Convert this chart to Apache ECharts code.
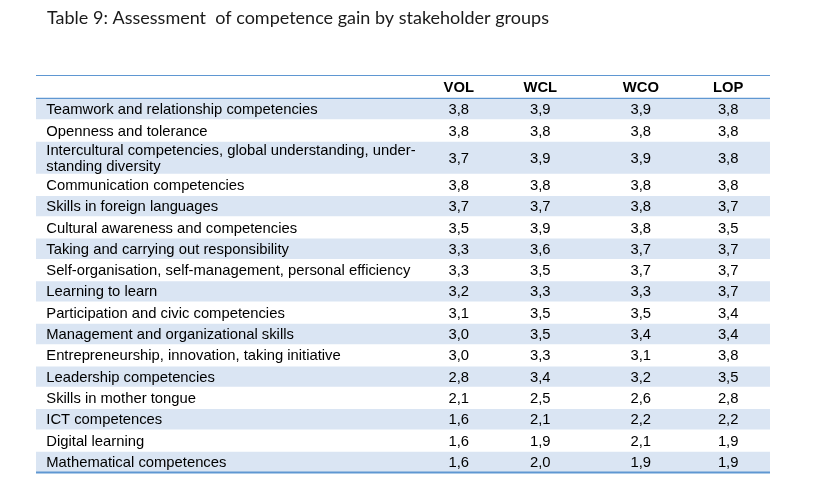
<!DOCTYPE html>
<html><head><meta charset="utf-8">
<script src="https://cdn.jsdelivr.net/npm/echarts@6/dist/echarts.min.js"></script>
<style>html,body{margin:0;padding:0;background:#fff}#c{width:837px;height:499px}</style>
</head><body><div id="c"></div>
<script>
const tableTitle = 'Table 9: Assessment  of competence gain by stakeholder groups';
const columns = ['VOL', 'WCL', 'WCO', 'LOP'];
const competences = [
  'Teamwork and relationship competencies',
  'Openness and tolerance',
  'Intercultural competencies, global understanding, under-\nstanding diversity',
  'Communication competencies',
  'Skills in foreign languages',
  'Cultural awareness and competencies',
  'Taking and carrying out responsibility',
  'Self-organisation, self-management, personal efficiency',
  'Learning to learn',
  'Participation and civic competencies',
  'Management and organizational skills',
  'Entrepreneurship, innovation, taking initiative',
  'Leadership competencies',
  'Skills in mother tongue',
  'ICT competences',
  'Digital learning',
  'Mathematical competences'
];
const VOL = [3.8, 3.8, 3.7, 3.8, 3.7, 3.5, 3.3, 3.3, 3.2, 3.1, 3.0, 3.0, 2.8, 2.1, 1.6, 1.6, 1.6];
const WCL = [3.9, 3.8, 3.9, 3.8, 3.7, 3.9, 3.6, 3.5, 3.3, 3.5, 3.5, 3.3, 3.4, 2.5, 2.1, 1.9, 2.0];
const WCO = [3.9, 3.8, 3.9, 3.8, 3.8, 3.8, 3.7, 3.7, 3.3, 3.5, 3.4, 3.1, 3.2, 2.6, 2.2, 2.1, 1.9];
const LOP = [3.8, 3.8, 3.8, 3.8, 3.7, 3.5, 3.7, 3.7, 3.7, 3.4, 3.4, 3.8, 3.5, 2.8, 2.2, 1.9, 1.9];

// ---- layout / style (not data) ----
const valueCols = [VOL, WCL, WCO, LOP];
const colPct = [57.6, 68.7, 82.4, 94.3];   // column centres, % of table width
const labelPct = 1.4;
const HEADER_U = 1.08;
const twoLineU = 1.55;
const BAND = '#dae5f3';
const LINE = '#5f97d2';
const FONT = '"Liberation Sans", Arial, sans-serif';
const FS = '14.8px ';
const TY = 1.5; // optical vertical offset
const fmt = v => v.toFixed(1).replace('.', ',');

// build rows in axis units
const rows = [];
let y = HEADER_U;
competences.forEach((c, i) => {
  const u = c.indexOf('\n') >= 0 ? twoLineU : 1;
  rows.push([i, y, y + u]);
  y += u;
});
const totalU = y;
const tableData = [[-1, 0, HEADER_U]].concat(rows);

function renderItem(params, api) {
  const idx = api.value(0), y0 = api.value(1), y1 = api.value(2);
  const pA = api.coord([0, y0]);
  const pB = api.coord([100, y1]);
  const midY = (pA[1] + pB[1]) / 2 + TY;
  const children = [];
  if (idx === -1) {
    children.push({ type: 'line', shape: { x1: pA[0], y1: pA[1] + 0.5, x2: pB[0], y2: pA[1] + 0.5 }, style: { stroke: LINE, lineWidth: 1 } });
    children.push({ type: 'line', shape: { x1: pA[0], y1: pB[1] + 0.5, x2: pB[0], y2: pB[1] + 0.5 }, style: { stroke: LINE, lineWidth: 1.5 } });
    columns.forEach((h, j) => {
      children.push({ type: 'text', x: api.coord([colPct[j], 0])[0], y: midY - 0.5, style: { text: h, fill: '#000', font: 'bold ' + FS + FONT, textAlign: 'center', textVerticalAlign: 'middle' } });
    });
    return { type: 'group', children };
  }
  if (idx % 2 === 0) {
    children.push({ type: 'rect', shape: { x: pA[0], y: pA[1] + 1, width: pB[0] - pA[0], height: pB[1] - pA[1] - 1 }, style: { fill: BAND } });
  }
  children.push({ type: 'text', x: api.coord([labelPct, 0])[0], y: midY, style: { text: competences[idx], fill: '#000', font: FS + FONT, textAlign: 'left', textVerticalAlign: 'middle', lineHeight: 16 } });
  valueCols.forEach((col, j) => {
    children.push({ type: 'text', x: api.coord([colPct[j], 0])[0], y: midY, style: { text: fmt(col[idx]), fill: '#000', font: FS + FONT, textAlign: 'center', textVerticalAlign: 'middle' } });
  });
  if (idx === competences.length - 1) {
    children.push({ type: 'line', shape: { x1: pA[0], y1: pB[1] + 0.5, x2: pB[0], y2: pB[1] + 0.5 }, style: { stroke: LINE, lineWidth: 2 } });
  }
  return { type: 'group', children };
}

const chart = echarts.init(document.getElementById('c'), null, { renderer: 'canvas' });
chart.setOption({
  animation: false,
  backgroundColor: '#fff',
  title: {
    text: tableTitle, left: 42, top: 4,
    textStyle: { fontFamily: 'Lato, "Open Sans", sans-serif', fontSize: 18, fontWeight: 'normal', color: '#1a1a1a' }
  },
  grid: { left: 36, right: 67, top: 75, bottom: 27 },
  xAxis: { type: 'value', min: 0, max: 100, show: false },
  yAxis: { type: 'value', min: 0, max: totalU, inverse: true, show: false },
  series: [{
    type: 'custom', silent: true, renderItem,
    encode: { x: -1, y: [1, 2] },
    data: tableData
  }]
});
</script>
</body></html>
